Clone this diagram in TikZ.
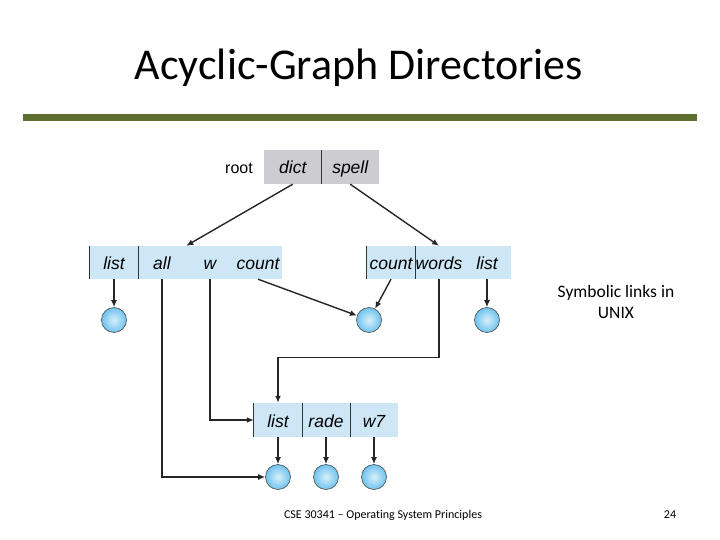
\documentclass[tikz,border=0pt]{standalone}
\usepackage{fontspec}
\setmainfont{Carlito}[Ligatures=NoCommon]
\newfontfamily\helv{Liberation Sans}
\usetikzlibrary{arrows.meta}
\definecolor{dirblue}{RGB}{205,231,246}
\definecolor{rootgray}{RGB}{205,205,209}
\definecolor{barolive}{RGB}{93,110,46}
\definecolor{ballblue}{RGB}{110,194,237}
\definecolor{balllight}{RGB}{215,240,252}

\begin{document}
\begin{tikzpicture}[x=1pt, y=-1pt,
    cell/.style={fill=dirblue, minimum width=48pt, minimum height=33pt, inner sep=0pt,
      text height=14pt, text depth=0pt, font=\helv\itshape\fontsize{17.5}{19}\selectfont},
    rootcell/.style={cell, fill=rootgray, minimum width=57.5pt, minimum height=34pt},
    file/.style={circle, minimum size=25pt, inner sep=0pt, draw=black!70, line width=0.6pt,
      inner color=balllight, outer color=ballblue},
    link/.style={-{Latex[length=7pt,width=6pt]}, line width=1.4pt, black!85},
    edge/.style={line width=1pt, black!80}]
    \useasboundingbox (0,0) rectangle (720,540);

    % title and bar
    \node (title) at (359,68) {\fontsize{44}{48}\selectfont Acyclic-Graph Directories};
    \fill[barolive] (23,114) rectangle (697,121);

    % root directory
    \node[text height=14pt, text depth=0pt, inner sep=0pt] (root) at (239,167)
      {\helv\fontsize{16}{18}\selectfont root};
    \node[rootcell] (dict) at (292.75,167) {dict};
    \node[rootcell] (spell) at (350.25,167) {spell};
    \draw[edge] (dict.north east) -- (dict.south east);

    % left directory
    \node[cell] (llist) at (114,262.5) {list};
    \node[cell] (lall) at (162,262.5) {all};
    \node[cell] (lw) at (210,262.5) {w};
    \node[cell] (lcount) at (258,262.5) {count};
    \draw[edge] (llist.north west) -- (llist.south west);
    \draw[edge] (llist.north east) -- (llist.south east);

    % right directory
    \node[cell] (rcount) at (391,262.5) {count};
    \node[cell] (rwords) at (439,262.5) {words};
    \node[cell] (rlist) at (487,262.5) {list};
    \draw[edge] (rcount.north west) -- (rcount.south west);
    \draw[edge] (rcount.north east) -- (rcount.south east);

    % shared directory
    \node[cell, minimum height=34pt] (blist) at (278,420) {list};
    \node[cell, minimum height=34pt] (brade) at (326,420) {rade};
    \node[cell, minimum height=34pt] (bw7) at (374,420) {w7};
    \draw[edge] (blist.north west) -- (blist.south west);
    \draw[edge] (blist.north east) -- (blist.south east);
    \draw[edge] (brade.north east) -- (brade.south east);

    % files
    \node[file] (f1) at (114,320) {};
    \node[file] (f2) at (369,320) {};
    \node[file] (f3) at (487,320) {};
    \node[file] (f4) at (278,477) {};
    \node[file] (f5) at (326,477) {};
    \node[file] (f6) at (374,477) {};

    % links
    \draw[link] (dict.south) -- (lall.north east);
    \draw[link] (spell.south) -- (rwords.north);
    \draw[link] (llist.south) -- (f1.north);
    \draw[link] (lcount.south) -- (f2);
    \draw[link] (rcount.south) -- (f2);
    \draw[link] (rlist.south) -- (f3.north);
    \draw[link] (lall.south) |- (f4.west);
    \draw[link] (lw.south) |- (blist.west);
    \draw[link] (rwords.south) -- ++(0,78) -| (blist.north);
    \draw[link] (blist.south) -- (f4.north);
    \draw[link] (brade.south) -- (f5.north);
    \draw[link] (bw7.south) -- (f6.north);

    % side note and footer
    \node[align=center, font=\fontsize{17.5}{21}\selectfont] (note) at (616,302) {Symbolic links in\\UNIX};
    \node[font=\fontsize{12}{14}\selectfont] (footer) at (383,515) {CSE 30341 -- Operating System Principles};
    \node[font=\fontsize{12}{14}\selectfont] (page) at (670,515) {24};
\end{tikzpicture}
\end{document}
